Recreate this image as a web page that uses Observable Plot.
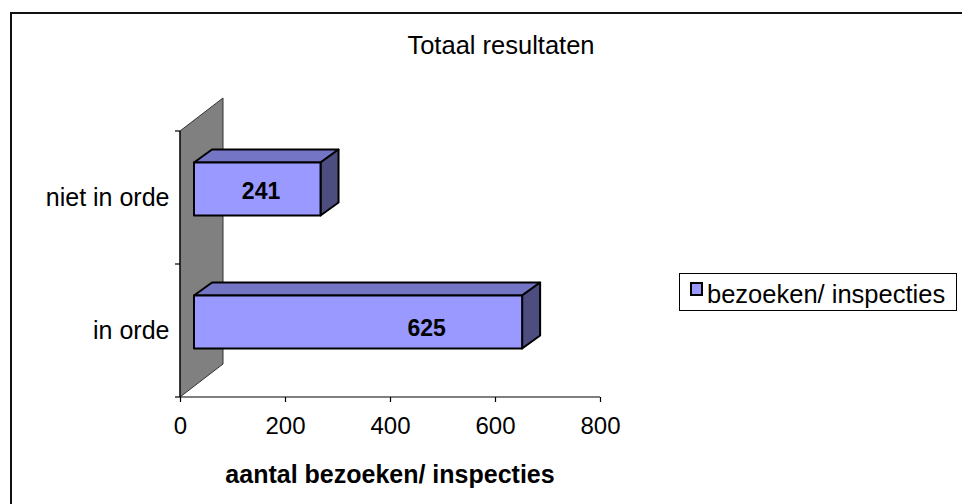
<!DOCTYPE html>
<html>
<head>
<meta charset="utf-8">
<script src="https://cdn.jsdelivr.net/npm/d3@7"></script>
<script src="https://cdn.jsdelivr.net/npm/@observablehq/plot@0.6"></script>
<style>
  body { margin: 0; background: #fff; }
  #wrap { position: relative; width: 962px; height: 504px; overflow: hidden; background: #fff;
          font-family: "Liberation Sans", Arial, sans-serif; color: #000; }
  #frame { position: absolute; left: 10px; top: 12px; width: 1000px; height: 600px;
           border-top: 2px solid #111; border-left: 2px solid #111; box-sizing: border-box; }
  #chart { position: absolute; left: 0; top: 0; }
  #chart g[aria-label="x-axis tick label"] { font-size: 24px; }
  #chart g[aria-label="y-axis tick label"] { font-size: 25px; }
  .t { position: absolute; white-space: nowrap; line-height: 1; }
  #title { left: 501px; top: 33px; transform: translateX(-50%); font-size: 25.5px; }
  #xlabel { left: 390px; top: 462px; transform: translateX(-50%); font-size: 25px; font-weight: bold; }
  #legend { position: absolute; left: 679px; top: 273px; width: 278px; height: 38px; box-sizing: border-box;
            border: 1px solid #000; background: #fff; }
  #legend .sw { position: absolute; left: 10px; top: 8px; width: 13px; height: 14px; box-sizing: border-box;
                border: 2px solid #000; }
  #legend .lt { position: absolute; left: 27px; top: 8px; font-size: 25.5px; line-height: 1; white-space: nowrap; }
</style>
</head>
<body>
<div id="wrap">
  <div id="frame"></div>
  <div id="chart"></div>
  <div class="t" id="title"></div>
  <div class="t" id="xlabel"></div>
  <div id="legend"><div class="sw"></div><div class="lt"></div></div>
</div>
<script>
// ---- data ----
const categories = ["niet in orde", "in orde"];
const values = [241, 625];
const seriesName = "bezoeken/ inspecties";
const xTicks = [0, 200, 400, 600, 800];
const titleText = "Totaal resultaten";
const xAxisTitle = "aantal bezoeken/ inspecties";

const data = categories.map((c, i) => ({category: c, value: values[i]}));

// ---- style ----
const FRONT = "#9999FF", TOP = "#7575C6", SIDE = "#4D4D80", WALL = "#808080";
const BAR_DX = 14, INSET_TOP = 31.5, INSET_BOTTOM = 48.5;
const DEPTH_X = 18, DEPTH_Y = -13;
const WALL_X = 43, WALL_Y = -33;

function bandInfo(scales, dims) {
  const y = scales.y;
  const bw = (typeof y.bandwidth === "function") ? y.bandwidth()
    : (dims.height - dims.marginTop - dims.marginBottom) / categories.length;
  return {y, bw};
}

// back wall + axis lines + boundary ticks
function backdrop(index, scales, values, dims) {
  const g = d3.create("svg:g");
  const x0 = scales.x(0);
  const yTop = dims.marginTop, yBot = dims.height - dims.marginBottom;
  g.append("path")
    .attr("d", `M${x0},${yTop}L${x0 + WALL_X},${yTop + WALL_Y}L${x0 + WALL_X},${yBot + WALL_Y}L${x0},${yBot}Z`)
    .attr("fill", WALL).attr("stroke", "#333").attr("stroke-width", 1);
  g.append("line").attr("x1", x0).attr("x2", x0).attr("y1", yTop).attr("y2", yBot)
    .attr("stroke", "#000").attr("stroke-width", 1.2);
  g.append("line").attr("x1", x0).attr("x2", scales.x(xTicks[xTicks.length - 1])).attr("y1", yBot).attr("y2", yBot)
    .attr("stroke", "#000").attr("stroke-width", 1.2);
  const {y, bw} = bandInfo(scales, dims);
  const bounds = categories.map(c => y(c)).concat([y(categories[categories.length - 1]) + bw]);
  for (const b of bounds) {
    g.append("line").attr("x1", x0 - 5).attr("x2", x0).attr("y1", b).attr("y2", b)
      .attr("stroke", "#000").attr("stroke-width", 1.2);
  }
  return g.node();
}

// top and side faces of the 3D bars
function barFaces(index, scales, values, dims) {
  const g = d3.create("svg:g");
  const {y, bw} = bandInfo(scales, dims);
  for (const d of data) {
    const xa = scales.x(0) + BAR_DX, xb = scales.x(d.value) + BAR_DX;
    const yt = y(d.category) + INSET_TOP, yb = y(d.category) + bw - INSET_BOTTOM;
    g.append("path")
      .attr("d", `M${xa},${yt}L${xb},${yt}L${xb + DEPTH_X},${yt + DEPTH_Y}L${xa + DEPTH_X},${yt + DEPTH_Y}Z`)
      .attr("fill", TOP).attr("stroke", "#000").attr("stroke-width", 2).attr("stroke-linejoin", "round");
    g.append("path")
      .attr("d", `M${xb},${yt}L${xb + DEPTH_X},${yt + DEPTH_Y}L${xb + DEPTH_X},${yb + DEPTH_Y}L${xb},${yb}Z`)
      .attr("fill", SIDE).attr("stroke", "#000").attr("stroke-width", 2).attr("stroke-linejoin", "round");
  }
  return g.node();
}

const chart = Plot.plot({
  width: 962,
  height: 504,
  marginLeft: 180,
  marginRight: 362,
  marginTop: 131,
  marginBottom: 107,
  style: {fontFamily: "'Liberation Sans', Arial, sans-serif", fontSize: "24px", background: "transparent", color: "#000", overflow: "visible"},
  x: {domain: [0, 800], label: null},
  y: {domain: categories, padding: 0, label: null},
  marks: [
    backdrop,
    Plot.axisX({ticks: xTicks, tickSize: 5, tickPadding: 14, label: null, fontSize: 24, strokeWidth: 1.2}),
    Plot.axisY({tickSize: 0, tickPadding: 11, label: null, fontSize: 25}),
    barFaces,
    Plot.barX(data, {x: "value", y: "category", dx: BAR_DX, insetTop: INSET_TOP, insetBottom: INSET_BOTTOM,
      fill: FRONT, stroke: "#000", strokeWidth: 2, strokeLinejoin: "round"}),
    Plot.text(data, {filter: d => d.category === categories[0], x: "value", y: "category", text: d => String(d.value),
      dx: -46, dy: -6, fontSize: 23, fontWeight: "bold", fill: "#000"}),
    Plot.text(data, {filter: d => d.category === categories[1], x: "value", y: "category", text: d => String(d.value),
      dx: -82, dy: -2, fontSize: 23, fontWeight: "bold", fill: "#000"})
  ]
});
document.getElementById("chart").appendChild(chart);
document.getElementById("title").textContent = titleText;
document.getElementById("xlabel").textContent = xAxisTitle;
document.querySelector("#legend .lt").textContent = seriesName;
document.querySelector("#legend .sw").style.background = FRONT;
</script>
</body>
</html>
